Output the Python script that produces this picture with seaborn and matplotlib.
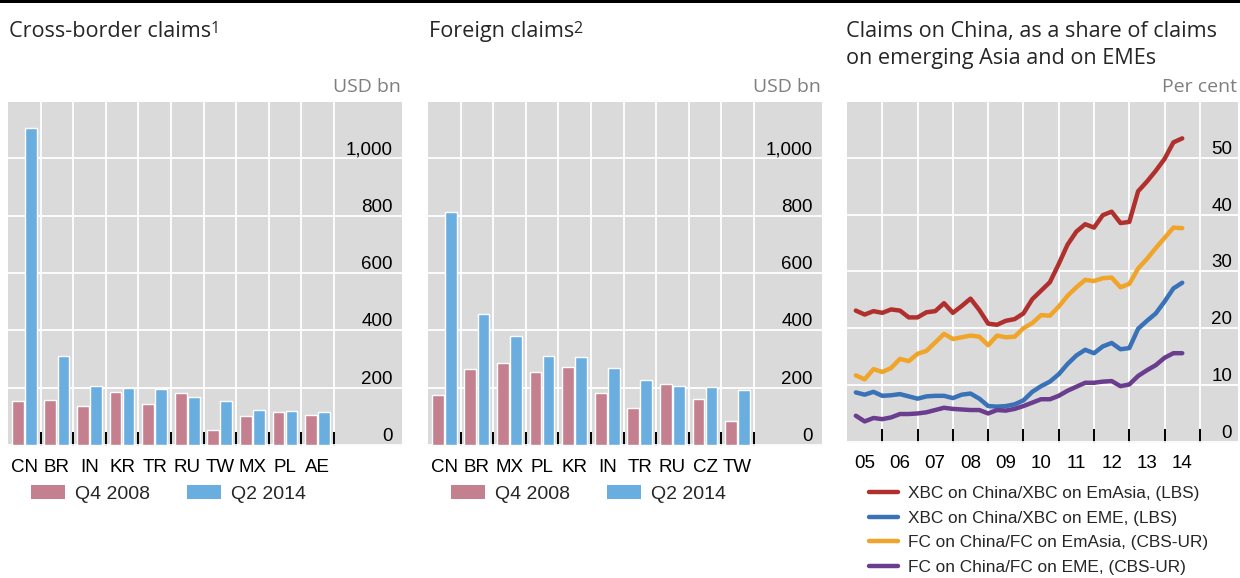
import numpy as np
import pandas as pd
import matplotlib
matplotlib.use("Agg")
import matplotlib.pyplot as plt
import matplotlib.transforms as mtransforms
from matplotlib.lines import Line2D
from matplotlib.patches import Patch, Rectangle
import seaborn as sns

# ---------------- data ----------------
cb_countries = ["CN", "BR", "IN", "KR", "TR", "RU", "TW", "MX", "PL", "AE"]
cb_q4_2008 = [153, 157, 136, 185, 143, 181, 52, 101, 115, 105]
cb_q2_2014 = [1106, 310, 206, 199, 195, 167, 153, 122, 119, 115]

fc_countries = ["CN", "BR", "MX", "PL", "KR", "IN", "TR", "RU", "CZ", "TW"]
fc_q4_2008 = [174, 265, 286, 255, 272, 181, 129, 213, 160, 84]
fc_q2_2014 = [813, 457, 380, 310, 307, 269, 227, 206, 202, 192]

bar_periods = ["Q4 2008", "Q2 2014"]
bar_yticks = [0, 200, 400, 600, 800, 1000]
bar_yticklabels = ["0", "200", "400", "600", "800", "1,000"]

quarters = pd.period_range("2005Q1", "2014Q2", freq="Q")
xbc_emasia = [23.1, 22.4, 23.0, 22.7, 23.3, 23.1, 21.9, 21.9, 22.8, 23.0,
              24.4, 22.7, 23.9, 25.2, 23.2, 20.8, 20.6, 21.3, 21.6, 22.6,
              25.1, 26.6, 28.1, 31.3, 34.7, 37.0, 38.3, 37.7, 39.9, 40.5,
              38.5, 38.7, 44.1, 45.8, 47.7, 49.8, 52.7, 53.4]
xbc_eme = [8.7, 8.3, 8.8, 8.1, 8.2, 8.4, 8.0, 7.6, 8.0, 8.1,
           8.1, 7.7, 8.3, 8.5, 7.6, 6.3, 6.2, 6.3, 6.6, 7.3,
           8.8, 9.8, 10.6, 11.9, 13.7, 15.2, 16.2, 15.6, 16.8, 17.4,
           16.3, 16.5, 19.9, 21.3, 22.6, 24.7, 27.0, 28.0]
fc_emasia = [11.7, 11.0, 12.8, 12.3, 13.0, 14.6, 14.2, 15.5, 16.0, 17.5,
             19.0, 18.1, 18.4, 18.7, 18.5, 17.0, 18.7, 18.4, 18.5, 20.0,
             20.9, 22.3, 22.2, 23.8, 25.7, 27.2, 28.5, 28.3, 28.8, 28.9,
             27.2, 27.8, 30.5, 32.2, 34.1, 35.9, 37.7, 37.6]
fc_eme = [4.6, 3.6, 4.2, 4.0, 4.3, 4.9, 4.9, 5.0, 5.2, 5.6,
          6.0, 5.8, 5.7, 5.6, 5.6, 5.0, 5.6, 5.5, 5.8, 6.3,
          6.9, 7.5, 7.5, 8.1, 9.0, 9.7, 10.4, 10.4, 10.6, 10.7,
          9.8, 10.1, 11.6, 12.6, 13.5, 14.8, 15.6, 15.6]
line_labels = ["XBC on China/XBC on EmAsia, (LBS)",
               "XBC on China/XBC on EME, (LBS)",
               "FC on China/FC on EmAsia, (CBS-UR)",
               "FC on China/FC on EME, (CBS-UR)"]
line_yticks = [0, 10, 20, 30, 40, 50]
year_labels = ["05", "06", "07", "08", "09", "10", "11", "12", "13", "14"]

# ---------------- style ----------------
BG = "#DADADA"
PINK = "#C4808E"
BLUE_BAR = "#6AAEE0"
LINE_COLORS = ["#B0302E", "#3A72B8", "#F0A52A", "#6A3D8E"]
TITLE_FONT = "Open Sans"
TICK_FONT = "Liberation Sans"
TITLE_SIZE = 15.6

sns.set_style("darkgrid", {"axes.facecolor": BG, "grid.color": "white"})
plt.rcParams["font.family"] = [TICK_FONT, "DejaVu Sans"]

W, H = 1240, 578
fig = plt.figure(figsize=(W / 100, H / 100), dpi=100)
fig.patch.set_facecolor("white")
renderer = fig.canvas.get_renderer()


def rect(l, t, r, b):
    return [l / W, 1 - b / H, (r - l) / W, (b - t) / H]


def fx(px):
    return px / W


def fy(py):
    return 1 - py / H


# top black rule
fig.add_artist(Rectangle((0, fy(3)), 1, 3 / H, transform=fig.transFigure,
                         color="black", lw=0))


def style_common(ax):
    for s in ax.spines.values():
        s.set_visible(False)
    ax.grid(True, which="major", color="white", lw=1.3)
    ax.grid(False, which="minor")
    ax.tick_params(axis="x", which="major", direction="in", length=10,
                   width=1.4, color="black", labelbottom=False, bottom=True)
    ax.tick_params(axis="x", which="minor", length=0, pad=9,
                   labelsize=13.5, labelcolor="black")
    ax.tick_params(axis="y", which="both", length=0, labelleft=False,
                   labelright=False)
    ax.set_xlabel("")
    ax.set_ylabel("")


def y_labels(ax, ticks, labels, xfrac):
    off = mtransforms.offset_copy(ax.get_yaxis_transform(), fig=fig,
                                  x=0, y=4, units="dots")
    for t, lab in zip(ticks, labels):
        ax.text(xfrac, t, lab, transform=off, ha="right", va="baseline",
                fontsize=13.5, color="black", family=TICK_FONT)


def title_with_sup(x_px, base_px, title, sup):
    t = fig.text(fx(x_px), fy(base_px), title, fontsize=TITLE_SIZE,
                 family=TITLE_FONT, ha="left", va="baseline")
    bb = t.get_window_extent(renderer)
    fig.text(bb.x1 / W - 0.5 / W, fy(base_px - 4), sup, fontsize=11.5,
             family=TITLE_FONT, ha="left", va="baseline")


def bar_panel(l, r, countries, v1, v2, title, sup, unit):
    ax = fig.add_axes(rect(l, 102, r, 446))
    df = pd.DataFrame({
        "country": countries * 2,
        "period": [bar_periods[0]] * len(countries) + [bar_periods[1]] * len(countries),
        "value": v1 + v2,
    })
    sns.barplot(data=df, x="country", y="value", hue="period",
                palette=[PINK, BLUE_BAR], saturation=1, width=0.8, gap=0.1,
                ax=ax, legend=False)
    n = len(countries)
    ax.set_xlim(-0.5, 11.59)
    ax.set_ylim(-2, 1195)
    ax.set_xticks(np.arange(n) + 0.5)
    ax.set_xticklabels([])
    ax.set_xticks(np.arange(n), labels=countries, minor=True)
    ax.set_yticks(bar_yticks)
    style_common(ax)
    y_labels(ax, bar_yticks, bar_yticklabels, 0.977)
    title_with_sup(l + 1, 37, title, sup)
    fig.text(fx(r - 1), fy(92), unit, fontsize=14, family=TITLE_FONT,
             color="#7F7F7F", ha="right", va="baseline")
    handles = [Patch(facecolor=PINK, lw=0), Patch(facecolor=BLUE_BAR, lw=0)]
    fig.legend(handles, bar_periods, loc="center left",
               bbox_to_anchor=(fx(l + 23), fy(494)), ncol=2, frameon=False,
               fontsize=14, handlelength=1.75, handleheight=0.72,
               handletextpad=0.52, columnspacing=1.9, borderpad=0,
               borderaxespad=0)
    return ax


bar_panel(8, 402, cb_countries, cb_q4_2008, cb_q2_2014,
          "Cross-border claims", "1", "USD bn")
bar_panel(428, 822, fc_countries, fc_q4_2008, fc_q2_2014,
          "Foreign claims", "2", "USD bn")

# ---------------- line panel ----------------
ax3 = fig.add_axes(rect(847, 102, 1238, 443))
xq = [p.year + p.quarter / 4 for p in quarters]
series = [xbc_emasia, xbc_eme, fc_emasia, fc_eme]
ldf = pd.concat([pd.DataFrame({"x": xq, "value": s, "series": lab})
                 for s, lab in zip(series, line_labels)])
sns.lineplot(data=ldf, x="x", y="value", hue="series", palette=LINE_COLORS,
             hue_order=line_labels, lw=3.2, ax=ax3, legend=False)
ax3.set_xlim(2005.0, 2016.08)
ax3.set_ylim(-0.2, 59.8)
ax3.set_xticks(np.arange(2006, 2016))
ax3.set_xticklabels([])
ax3.set_xticks(np.arange(2005.5, 2015), labels=year_labels, minor=True)
ax3.set_yticks(line_yticks)
style_common(ax3)
y_labels(ax3, line_yticks, [str(t) for t in line_yticks], 0.985)
fig.text(fx(846), fy(37), "Claims on China, as a share of claims",
         fontsize=TITLE_SIZE, family=TITLE_FONT, ha="left", va="baseline")
fig.text(fx(846), fy(64), "on emerging Asia and on EMEs",
         fontsize=TITLE_SIZE, family=TITLE_FONT, ha="left", va="baseline")
fig.text(fx(1237), fy(92), "Per cent", fontsize=14, family=TITLE_FONT,
         color="#7F7F7F", ha="right", va="baseline")
lh = [Line2D([], [], color=c, lw=3.2) for c in LINE_COLORS]
fig.legend(lh, line_labels, loc="center left",
           bbox_to_anchor=(fx(869), fy(530.5)), ncol=1, frameon=False,
           fontsize=12.4, handlelength=1.7, handletextpad=0.55,
           labelspacing=0.56, borderpad=0, borderaxespad=0)

fig.savefig("out.png", dpi=100, facecolor="white")
